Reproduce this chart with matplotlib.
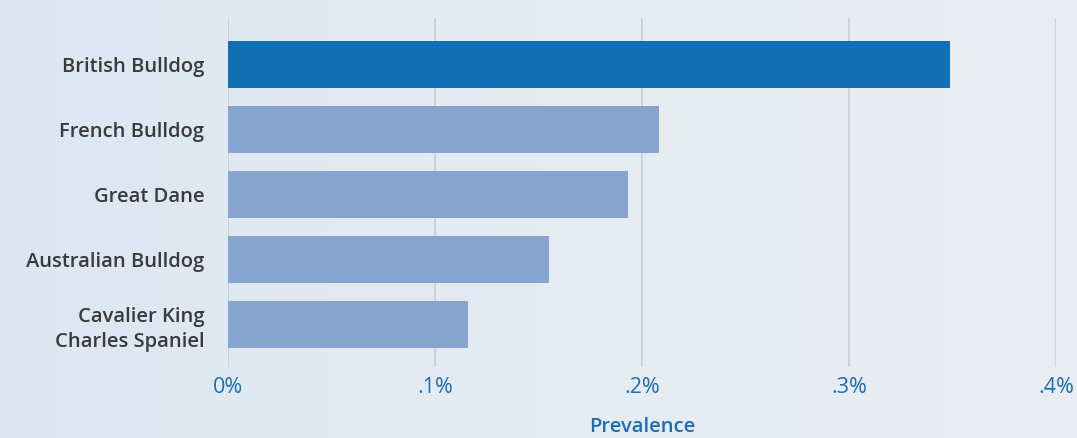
import numpy as np
import matplotlib.pyplot as plt
from matplotlib.colors import LinearSegmentedColormap

# Prevalence by breed (percent)
breeds = ["British Bulldog", "French Bulldog", "Great Dane",
          "Australian Bulldog", "Cavalier King\nCharles Spaniel"]
prevalence = [0.349, 0.208, 0.193, 0.155, 0.116]
bar_colors = ["#1170b3", "#86a4cf", "#86a4cf", "#86a4cf", "#86a4cf"]
xticks = [0.0, 0.1, 0.2, 0.3, 0.4]
xtick_labels = ["0%", ".1%", ".2%", ".3%", ".4%"]

plt.rcParams['font.family'] = ['Open Sans', 'DejaVu Sans']

fig = plt.figure(figsize=(10.77, 4.38), dpi=100)

# soft background wash
bg = fig.add_axes([0, 0, 1, 1], zorder=-10)
grad = np.linspace(0, 1, 256).reshape(1, -1)
cmap = LinearSegmentedColormap.from_list("bg", ["#dce6f1", "#e6ebf2", "#eaedf2"])
bg.imshow(grad, aspect="auto", cmap=cmap, extent=[0, 1, 0, 1])
bg.axis("off")

ax = fig.add_axes([0.2117, 0.1621, 0.9805 - 0.2117, 0.9589 - 0.1621])
ax.set_facecolor("none")

y = np.arange(len(breeds))
ax.barh(y, prevalence, height=0.72, color=bar_colors, zorder=3)

ax.set_xlim(0, 0.4)
ax.set_ylim(4.65, -0.72)
ax.set_xticks(xticks)
ax.set_xticklabels(xtick_labels, color="#1a6fb0", fontsize=15.5)
ax.set_yticks(y)
ax.set_yticklabels(breeds, color="#3a3a3a", fontsize=14.5, fontweight="semibold",
                   linespacing=1.3)
ax.tick_params(axis="both", length=0)
ax.tick_params(axis="x", pad=7)
ax.tick_params(axis="y", pad=17)

for x in xticks:
    ax.axvline(x, color="#cfd3d8", lw=1.5, zorder=1)

for s in ax.spines.values():
    s.set_visible(False)

ax.set_xlabel("Prevalence", color="#1a6fb0", fontsize=14.5, fontweight="semibold",
              labelpad=14)

fig.savefig("out.png", dpi=100)
